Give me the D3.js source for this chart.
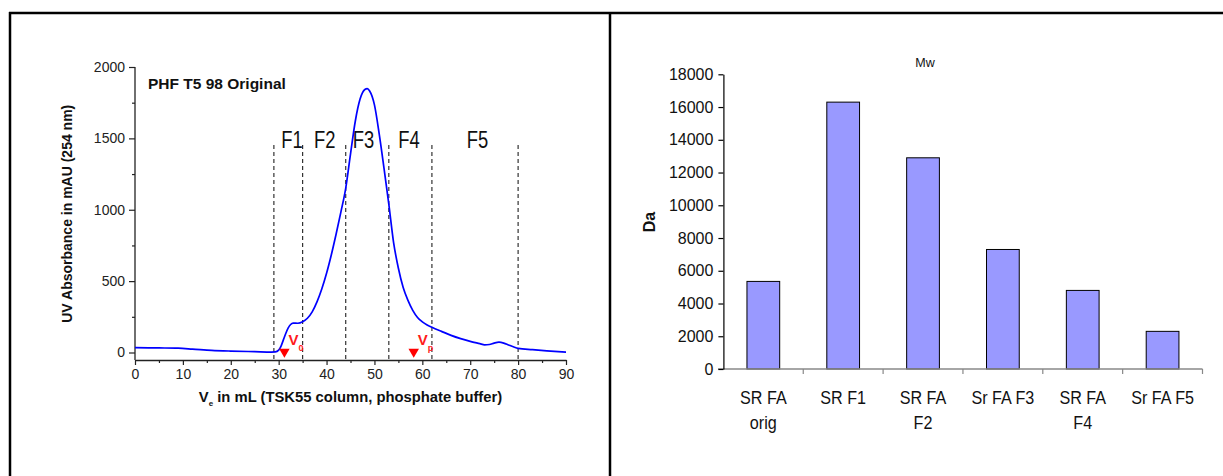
<!DOCTYPE html>
<html>
<head>
<meta charset="utf-8">
<script src="https://cdn.jsdelivr.net/npm/d3@7"></script>
<style>
  body { margin: 0; background: #fff; }
  svg { display: block; }
  text { font-family: "Liberation Sans", Arial, sans-serif; }
</style>
</head>
<body>
<svg id="chart" width="1223" height="476"></svg>
<script>
// ---- Elution profile (UV trace) ----
const elutionVolume = [0, 5, 9, 12, 16, 20, 25, 28.5, 29.3, 30, 30.5, 31, 31.5, 32, 32.5, 33, 34, 35,
  36, 37, 38, 39, 40, 41, 42, 43, 44, 45, 46, 47, 48, 48.5, 49, 50, 51, 52, 53, 54, 55, 56, 57, 58,
  59, 60, 61, 62, 64, 66, 68, 70, 72, 73, 74, 75, 76, 77, 78, 79, 80, 83, 86, 90];
const absorbance = [34, 32, 30, 24, 15, 10, 6, 3, 4, 16, 45, 90, 135, 172, 196, 206, 205, 215,
  240, 285, 355, 445, 555, 685, 830, 985, 1150, 1390, 1620, 1775, 1842, 1848, 1832, 1735, 1530, 1290, 1040, 770, 590, 455, 365, 295,
  245, 215, 193, 177, 148, 120, 97, 78, 62, 54, 56, 66, 72, 66, 53, 40, 29, 20, 12, 3];
const fractionCuts = [29, 35, 44, 53, 62, 80];
const fractionNames = ["F1", "F2", "F3", "F4", "F5"];
const fractionLabelAt = [32.8, 39.6, 47.7, 57.2, 71.5];
const markerVolumes = [31.2, 58.2];
const markerSubscripts = ["0", "p"];
const volumeTicks = [0, 10, 20, 30, 40, 50, 60, 70, 80, 90];
const volumeMinorTicks = [5, 15, 25, 35, 45, 55, 65, 75, 85];
const absTicks = [0, 500, 1000, 1500, 2000];
const absMinorTicks = [250, 750, 1250, 1750];

// ---- Molecular weight bars ----
const sampleLabels = [["SR FA", "orig"], ["SR F1"], ["SR FA", "F2"], ["Sr FA F3"], ["SR FA", "F4"], ["Sr FA F5"]];
const mwValues = [5350, 16300, 12900, 7300, 4800, 2300];
const mwTicks = [0, 2000, 4000, 6000, 8000, 10000, 12000, 14000, 16000, 18000];

const svg = d3.select("#chart");
const plain = d3.format("d");

// outer frame: top rule, left rule and the divider between the panels
const frame = svg.append("g").attr("stroke", "#000").attr("stroke-width", 2.5);
frame.append("line").attr("x1", 9).attr("x2", 1223).attr("y1", 13).attr("y2", 13);
frame.append("line").attr("x1", 10).attr("x2", 10).attr("y1", 12).attr("y2", 476);
frame.append("line").attr("x1", 610).attr("x2", 610).attr("y1", 12).attr("y2", 476);

// ================= left panel =================
const x = d3.scaleLinear().domain([0, 90]).range([135, 566]);
const y = d3.scaleLinear().domain([0, 2000]).range([352.5, 67]);
const axisY = 360;
const tickColor = "#222";

const left = svg.append("g");

// x axis
const xAxis = left.append("g").attr("transform", `translate(0,${axisY})`)
  .call(d3.axisBottom(x).tickValues(volumeTicks).tickFormat(plain).tickSize(5).tickSizeOuter(0).tickPadding(4));
xAxis.append("g")
  .call(d3.axisBottom(x).tickValues(volumeMinorTicks).tickSize(3).tickFormat(""))
  .select(".domain").remove();
// y axis
const yAxis = left.append("g").attr("transform", `translate(${x(0)},0)`)
  .call(d3.axisLeft(y).tickValues(absTicks).tickFormat(plain).tickSize(6).tickPadding(4));
yAxis.select(".domain").remove();
yAxis.append("g")
  .call(d3.axisLeft(y).tickValues(absMinorTicks).tickSize(3).tickFormat(""))
  .select(".domain").remove();
left.append("line").attr("x1", x(0)).attr("x2", x(0)).attr("y1", y(2000)).attr("y2", axisY)
  .attr("stroke", tickColor).attr("stroke-width", 1.3);

left.selectAll(".domain").attr("stroke", tickColor).attr("stroke-width", 1.3);
left.selectAll(".tick line").attr("stroke", tickColor).attr("stroke-width", 1.2);
left.selectAll(".tick text").attr("font-size", 14).attr("fill", tickColor)
  .attr("font-family", "'Liberation Sans', Arial, sans-serif");

// fraction boundaries
left.append("g").selectAll("line").data(fractionCuts).join("line")
  .attr("x1", d => x(d)).attr("x2", d => x(d))
  .attr("y1", 145).attr("y2", axisY)
  .attr("stroke", "#333").attr("stroke-width", 1.2).attr("stroke-dasharray", "4,3");

// fraction names, set in a narrowed face
left.append("g").selectAll("text").data(fractionNames).join("text")
  .attr("transform", (d, i) => `translate(${x(fractionLabelAt[i])},148) scale(0.8,1)`)
  .attr("text-anchor", "middle")
  .attr("font-size", 23).attr("fill", "#111")
  .text(d => d);

// UV trace
const trace = d3.line()
  .x((d, i) => x(elutionVolume[i]))
  .y(d => y(d))
  .curve(d3.curveMonotoneX);
left.append("path").datum(absorbance)
  .attr("d", trace).attr("fill", "none")
  .attr("stroke", "#0000ff").attr("stroke-width", 1.7);

// V0 / Vp markers
const marks = left.append("g").selectAll("g").data(markerVolumes).join("g")
  .attr("transform", d => `translate(${x(d)},${y(5)})`);
marks.append("path")
  .attr("d", d3.symbol(d3.symbolTriangle, 48))
  .attr("transform", "rotate(180)")
  .attr("fill", "#ff0000");
const mlab = marks.append("text")
  .attr("x", 4).attr("y", -7)
  .attr("fill", "#ff1a1a").attr("font-weight", "bold").attr("font-size", 15);
mlab.append("tspan").text("V");
mlab.append("tspan").attr("font-size", 9).attr("dy", 6).text((d, i) => markerSubscripts[i]);

left.append("text").attr("x", 148).attr("y", 89)
  .attr("font-weight", "bold").attr("font-size", 15.5).attr("fill", "#111")
  .text("PHF T5 98 Original");

const xt = left.append("text").attr("x", (x(0) + x(90)) / 2).attr("y", 402)
  .attr("text-anchor", "middle").attr("font-weight", "bold").attr("font-size", 14.8).attr("fill", "#111");
xt.append("tspan").text("V");
xt.append("tspan").attr("font-size", 8).attr("dy", 4).text("e");
xt.append("tspan").attr("dy", -4).text(" in mL (TSK55 column, phosphate buffer)");

left.append("text")
  .attr("transform", `translate(72,${(y(0) + y(2000)) / 2 + 4}) rotate(-90)`)
  .attr("text-anchor", "middle").attr("font-weight", "bold").attr("font-size", 14).attr("fill", "#111")
  .text("UV Absorbance in mAU (254 nm)");

// ================= right panel =================
const idx = d3.range(mwValues.length);
const bx = d3.scaleBand().domain(idx).range([723.4, 1202.5]).paddingInner(0.59).paddingOuter(0.295);
const by = d3.scaleLinear().domain([0, 18000]).range([369, 74.3]);

const right = svg.append("g");

right.append("g").selectAll("rect").data(mwValues).join("rect")
  .attr("x", (d, i) => bx(i)).attr("width", bx.bandwidth())
  .attr("y", d => by(d)).attr("height", d => by(0) - by(d))
  .attr("fill", "#9999ff").attr("stroke", "#000").attr("stroke-width", 1);

// category axis with ticks at band boundaries
const step = bx.step();
const bounds = d3.range(mwValues.length + 1).map(i => 723.4 + i * step);
const catAxis = right.append("g");
catAxis.append("line").attr("x1", 718).attr("x2", bounds[bounds.length - 1])
  .attr("y1", by(0)).attr("y2", by(0)).attr("stroke", "#888").attr("stroke-width", 1.3);
catAxis.selectAll(".bt").data(bounds.slice(1)).join("line").attr("class", "bt")
  .attr("x1", d => d).attr("x2", d => d).attr("y1", by(0)).attr("y2", by(0) + 5)
  .attr("stroke", "#888").attr("stroke-width", 1.2);

const catLabels = catAxis.selectAll(".cl").data(sampleLabels).join("text").attr("class", "cl")
  .attr("text-anchor", "middle").attr("font-size", 19).attr("fill", "#111")
  .attr("transform", (d, i) => `translate(${bx(i) + bx.bandwidth() / 2},0) scale(0.85,1)`);
catLabels.selectAll("tspan").data(d => d).join("tspan")
  .attr("x", 0).attr("y", (d, j) => 404 + j * 25).text(d => d);

// value axis
const mwAxis = right.append("g").attr("transform", "translate(723.4,0)")
  .call(d3.axisLeft(by).tickValues(mwTicks).tickFormat(plain).tickSize(5).tickPadding(5).tickSizeOuter(0));
mwAxis.select(".domain").attr("stroke", "#000").attr("stroke-width", 1.2);
mwAxis.selectAll(".tick line").attr("stroke", "#000").attr("stroke-width", 1.2);
mwAxis.selectAll(".tick text").attr("font-size", 16).attr("fill", "#111")
  .attr("font-family", "'Liberation Sans', Arial, sans-serif");

right.append("text").attr("x", 925).attr("y", 67).attr("text-anchor", "middle")
  .attr("font-size", 12.5).attr("fill", "#111").text("Mw");

right.append("text")
  .attr("transform", `translate(655,222) rotate(-90)`)
  .attr("text-anchor", "middle").attr("font-weight", "bold").attr("font-size", 16).attr("fill", "#111")
  .text("Da");
</script>
</body>
</html>
